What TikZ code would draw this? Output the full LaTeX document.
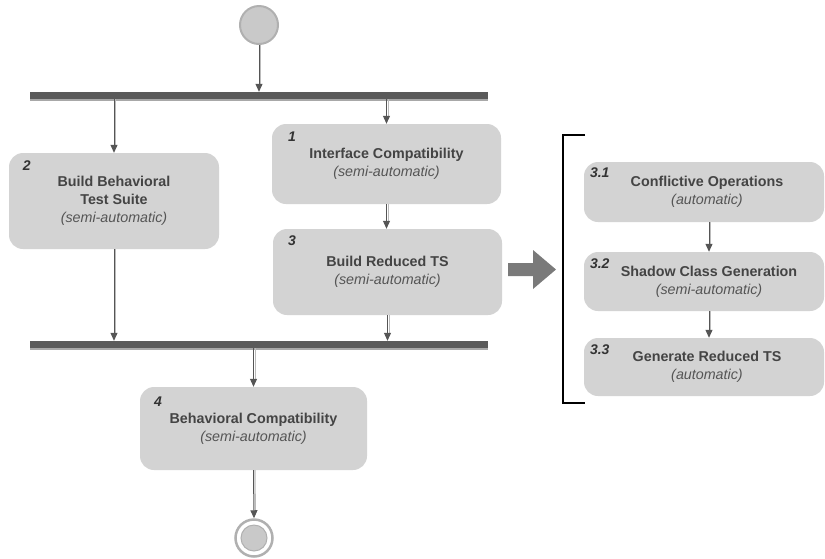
\documentclass[tikz,border=0pt]{standalone}
\usepackage{fontspec}
\setmainfont{Liberation Sans}
\usetikzlibrary{arrows.meta}
\definecolor{boxfill}{HTML}{D3D3D3}
\definecolor{txt}{HTML}{444444}
\definecolor{subtxt}{HTML}{555555}
\definecolor{barc}{HTML}{5A5A5A}
\definecolor{barshadow}{HTML}{A8A8A8}
\definecolor{linec}{HTML}{555555}
\definecolor{lineshadow}{HTML}{BBBBBB}
\definecolor{circfill}{HTML}{C9C9C9}
\definecolor{circring}{HTML}{B0B0B0}
\definecolor{bigarrow}{HTML}{7A7A7A}
\tikzset{
 act/.style={rectangle, rounded corners=14pt, fill=boxfill, draw=none, align=center, inner sep=0pt, text=txt, font=\fontsize{14.3}{18}\selectfont\bfseries},
 num/.style={font=\fontsize{14}{16}\selectfont\bfseries\itshape, text=black!80, anchor=west, inner sep=0pt},
 syncbar/.style={rectangle, fill=barc, inner sep=0pt, minimum width=458pt, minimum height=7pt},
 conn/.style={draw=linec, line width=1pt, -{Triangle[width=7pt,length=8pt]},
   preaction={draw=lineshadow, line width=1pt, -, shorten >=8pt, transform canvas={xshift=1.5pt}}},
}
\newcommand{\semitext}[1]{{\mdseries\itshape\color{subtxt}#1}}
\begin{document}
\begin{tikzpicture}[x=1pt,y=-1pt]
\useasboundingbox (0,0) rectangle (825,558);

% start / end
\node[circle, fill=circfill, draw=circring, line width=2pt, minimum size=38pt, inner sep=0pt] (start) at (259,25) {};
\node[circle, fill=white, draw=circring, line width=2.5pt, minimum size=37pt, inner sep=0pt] (end) at (254,538) {};
\node[circle, fill=circfill, draw=circring, line width=1pt, minimum size=26pt, inner sep=0pt] (endin) at (end.center) {};

% bars
\fill[barshadow] (30,99) rectangle (488,100.5);
\fill[barshadow] (30,348) rectangle (488,349.5);
\node[syncbar] (bar1) at (259,95.5) {};
\node[syncbar] (bar2) at (259,344.5) {};

% activities
\node[act, minimum width=210pt, minimum height=96pt] (b2) at (114,201) {Build Behavioral\\Test Suite\\\semitext{(semi-automatic)}};
\node[act, minimum width=229pt, minimum height=80pt] (b1) at (386.5,164) {Interface Compatibility\\\semitext{(semi-automatic)}};
\node[act, minimum width=229pt, minimum height=86pt] (b3) at (387.5,272) {Build Reduced TS\\\semitext{(semi-automatic)}};
\node[act, minimum width=227pt, minimum height=83pt] (b4) at (253.5,428.5) {Behavioral Compatibility\\\semitext{(semi-automatic)}};
\node[act, minimum width=240pt, minimum height=60pt] (b31) at (704,192) {\hspace*{6pt}Conflictive Operations\\\hspace*{6pt}\semitext{(automatic)}};
\node[act, minimum width=240pt, minimum height=59pt] (b32) at (704,281.5) {\hspace*{10pt}Shadow Class Generation\\\hspace*{10pt}\semitext{(semi-automatic)}};
\node[act, minimum width=240pt, minimum height=58pt] (b33) at (704,367) {\hspace*{6pt}Generate Reduced TS\\\hspace*{6pt}\semitext{(automatic)}};

% numbers
\node[num] (n2) at ([xshift=14pt,yshift=-13pt]b2.north west) {2};
\node[num] (n1) at ([xshift=16pt,yshift=-13pt]b1.north west) {1};
\node[num] (n3) at ([xshift=15pt,yshift=-12pt]b3.north west) {3};
\node[num] (n4) at ([xshift=14pt,yshift=-15pt]b4.north west) {4};
\node[num] (n31) at ([xshift=6pt,yshift=-11pt]b31.north west) {3.1};
\node[num] (n32) at ([xshift=6pt,yshift=-12pt]b32.north west) {3.2};
\node[num] (n33) at ([xshift=6pt,yshift=-12pt]b33.north west) {3.3};

% connectors
\draw[conn] (start) -- (start |- bar1.north);
\draw[conn] (bar1.south -| b2.north) -- (b2.north);
\draw[conn] (bar1.south -| b1.north) -- (b1.north);
\draw[conn] (b1.south) -- (b1.south |- b3.north);
\draw[conn] (b2.south) -- (b2.south |- bar2.north);
\draw[conn] (b3.south) -- (b3.south |- bar2.north);
\draw[conn] (bar2.south -| b4.north) -- (b4.north);
\draw[conn] (b4.south) -- (end.north);
\draw[conn] ([xshift=5pt]b31.south) -- ([xshift=5pt]b32.north);
\draw[conn] ([xshift=5pt]b32.south) -- ([xshift=5pt]b33.north);

% big arrow
\fill[bigarrow] (508,263) -- (533,263) -- (533,250) -- (556,269.5) -- (533,289) -- (533,276) -- (508,276) -- cycle;

% bracket
\draw[line width=2pt, black] (585,135) -- (563,135) -- (563,403) -- (585,403);
\end{tikzpicture}
\end{document}
